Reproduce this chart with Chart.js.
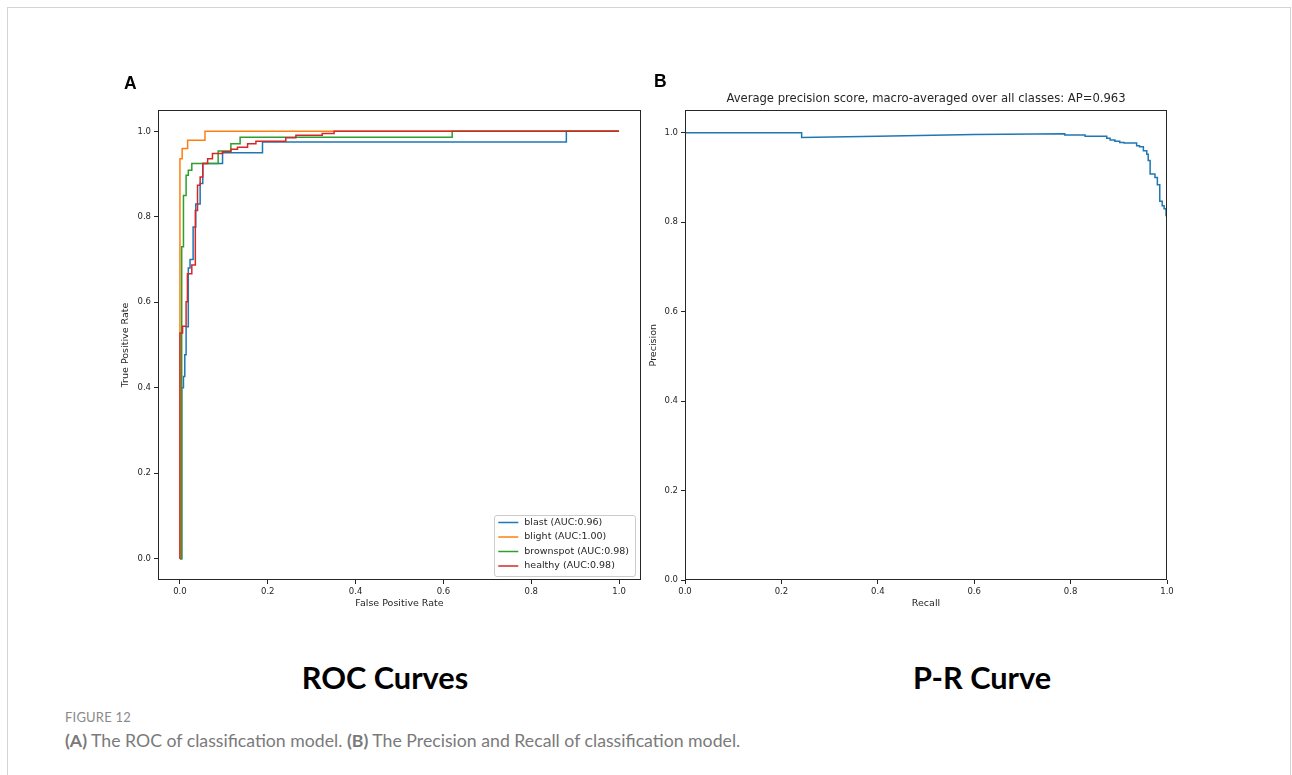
<!DOCTYPE html>
<html><head><meta charset="utf-8">
<script src="https://cdn.jsdelivr.net/npm/chart.js@4.4.0/dist/chart.umd.min.js"></script>
<style>
html,body{margin:0;padding:0;background:#fff;}
body{width:1292px;height:775px;overflow:hidden;position:relative;}
.card{position:absolute;left:7px;top:7px;width:1284px;height:820px;border:1px solid #d4d4d4;box-sizing:border-box;}
.cv{position:absolute;}
.panel{position:absolute;font-family:"Liberation Sans",Arial,sans-serif;font-weight:bold;font-size:17.5px;line-height:1;color:#000;}
.big{position:absolute;font-family:Lato,"Open Sans",sans-serif;font-weight:bold;font-size:30.7px;line-height:1;color:#000;transform:translateX(-50%);white-space:nowrap;}
.fig{position:absolute;left:65px;top:711px;font-family:Lato,"Open Sans",sans-serif;font-size:13px;line-height:1;color:#8a8a8a;letter-spacing:0.2px;}
.cap{position:absolute;left:65px;top:732px;font-family:Lato,"Open Sans",sans-serif;font-size:17.7px;line-height:1;color:#7a7a7a;white-space:nowrap;}
.cap b{font-weight:bold;}
</style></head>
<body>
<div class="card"></div>
<canvas id="roc" class="cv" width="600" height="570" style="left:60px;top:60px;width:600px;height:570px"></canvas>
<canvas id="pr" class="cv" width="600" height="570" style="left:640px;top:60px;width:600px;height:570px"></canvas>
<div class="panel" style="left:124px;top:74.5px">A</div>
<div class="panel" style="left:654px;top:73px">B</div>
<div class="big" style="left:385px;top:663px">ROC Curves</div>
<div class="big" style="left:982px;top:663px">P-R Curve</div>
<div class="fig">FIGURE 12</div>
<div class="cap"><b>(A)</b> The ROC of classification model. <b>(B)</b> The Precision and Recall of classification model.</div>
<script>
// ---------- data ----------
const classNames = ["blast", "blight", "brownspot", "healthy"];
const aucValues = ["0.96", "1.00", "0.98", "0.98"];
const classColors = ["#1f77b4", "#ff7f0e", "#2ca02c", "#d62728"];

const blastFpr = [0, 0.004, 0.004, 0.008, 0.008, 0.011, 0.011, 0.014, 0.014, 0.019, 0.019, 0.023, 0.023, 0.030, 0.030, 0.036, 0.036, 0.046, 0.046, 0.052, 0.052, 0.097, 0.097, 0.188, 0.188, 0.88, 0.88, 1.0];
const blastTpr = [0, 0, 0.40, 0.40, 0.426, 0.426, 0.477, 0.477, 0.543, 0.543, 0.68, 0.68, 0.70, 0.70, 0.776, 0.776, 0.83, 0.83, 0.878, 0.878, 0.925, 0.925, 0.95, 0.95, 0.975, 0.975, 1.0, 1.0];

const blightFpr = [0, 0, 0.005, 0.005, 0.0175, 0.0175, 0.057, 0.057, 1.0];
const blightTpr = [0, 0.936, 0.936, 0.960, 0.960, 0.979, 0.979, 1.0, 1.0];

const brownspotFpr = [0, 0.004, 0.004, 0.008, 0.008, 0.014, 0.014, 0.019, 0.019, 0.027, 0.027, 0.087, 0.087, 0.116, 0.116, 0.137, 0.137, 0.62, 0.62, 1.0];
const brownspotTpr = [0, 0, 0.73, 0.73, 0.85, 0.85, 0.897, 0.897, 0.909, 0.909, 0.925, 0.925, 0.954, 0.954, 0.971, 0.971, 0.986, 0.986, 1.0, 1.0];

const healthyFpr = [0, 0, 0.006, 0.006, 0.014, 0.014, 0.017, 0.017, 0.027, 0.027, 0.035, 0.035, 0.040, 0.040, 0.046, 0.046, 0.052, 0.052, 0.063, 0.063, 0.074, 0.074, 0.097, 0.097, 0.116, 0.116, 0.131, 0.131, 0.154, 0.154, 0.173, 0.173, 0.241, 0.241, 0.264, 0.264, 0.324, 0.324, 0.351, 0.351, 1.0];
const healthyTpr = [0, 0.528, 0.528, 0.544, 0.544, 0.601, 0.601, 0.667, 0.667, 0.687, 0.687, 0.815, 0.815, 0.874, 0.874, 0.893, 0.893, 0.925, 0.925, 0.936, 0.936, 0.948, 0.948, 0.952, 0.952, 0.958, 0.958, 0.963, 0.963, 0.971, 0.971, 0.977, 0.977, 0.985, 0.985, 0.991, 0.991, 0.995, 0.995, 1.0, 1.0];

const prRecall = [0, 0.242, 0.242, 0.40, 0.60, 0.788, 0.788, 0.83, 0.83, 0.875, 0.875, 0.882, 0.882, 0.892, 0.892, 0.902, 0.902, 0.911, 0.911, 0.937, 0.937, 0.943, 0.943, 0.951, 0.951, 0.958, 0.958, 0.961, 0.961, 0.965, 0.965, 0.975, 0.975, 0.980, 0.980, 0.985, 0.985, 0.990, 0.990, 0.994, 0.994, 0.998, 0.998, 1.0, 1.0];
const prPrecision = [1.0, 1.0, 0.9895, 0.992, 0.996, 0.998, 0.995, 0.995, 0.992, 0.992, 0.988, 0.988, 0.984, 0.984, 0.981, 0.981, 0.978, 0.978, 0.977, 0.977, 0.971, 0.971, 0.969, 0.969, 0.960, 0.960, 0.952, 0.952, 0.938, 0.938, 0.908, 0.908, 0.900, 0.900, 0.884, 0.884, 0.847, 0.847, 0.837, 0.837, 0.830, 0.830, 0.815, 0.815, 0.505];

const unitTicks = [0, 0.2, 0.4, 0.6, 0.8, 1.0];
const rocTitleX = "False Positive Rate", rocTitleY = "True Positive Rate";
const prTitleX = "Recall", prTitleY = "Precision";
const prTitle = "Average precision score, macro-averaged over all classes: AP=0.963";

// ---------- helpers ----------
const FONT = "'DejaVu Sans', sans-serif";
const INK = "#262626";
const toPts = (xs, ys) => xs.map((x, j) => ({x: x, y: ys[j]}));

const framePlugin = {
  id: 'frame',
  afterDatasetsDraw(chart) {
    const {ctx, chartArea: a} = chart;
    ctx.save();
    ctx.strokeStyle = INK; ctx.lineWidth = 1;
    const l = Math.round(a.left) + 0.5, t = Math.round(a.top) + 0.5;
    const r = Math.round(a.right) - 0.5, b = Math.round(a.bottom) - 0.5;
    ctx.strokeRect(l, t, r - l, b - t);
    ctx.restore();
  }
};

const insideLegend = {
  id: 'insideLegend',
  afterDraw(chart, args, opts) {
    if (!opts || !opts.show) return;
    const {ctx, chartArea: a} = chart;
    const ds = chart.data.datasets;
    ctx.save();
    ctx.font = "9.5px " + FONT;
    let maxW = 0;
    ds.forEach(d => { maxW = Math.max(maxW, ctx.measureText(d.label).width); });
    const rowH = 14.5, w = 30 + maxW + 6, h = rowH * ds.length + 3;
    const x0 = a.right - 6 - w, y0 = a.bottom - 4 - h;
    ctx.fillStyle = "rgba(255,255,255,0.8)";
    ctx.strokeStyle = "#cccccc"; ctx.lineWidth = 1;
    ctx.beginPath();
    if (ctx.roundRect) ctx.roundRect(Math.round(x0) + 0.5, Math.round(y0) + 0.5, Math.round(w), Math.round(h), 2.5);
    else ctx.rect(Math.round(x0) + 0.5, Math.round(y0) + 0.5, Math.round(w), Math.round(h));
    ctx.fill(); ctx.stroke();
    ds.forEach((d, i) => {
      const cy = y0 + 7.5 + i * rowH;
      ctx.strokeStyle = d.borderColor; ctx.lineWidth = 1.5;
      ctx.beginPath(); ctx.moveTo(x0 + 4, cy); ctx.lineTo(x0 + 24, cy); ctx.stroke();
      ctx.fillStyle = INK; ctx.textBaseline = "middle"; ctx.textAlign = "left";
      ctx.fillText(d.label, x0 + 30, cy);
    });
    ctx.restore();
  }
};

function axis(min, max, titleText, fit, titlePad, isX) {
  return {
    type: 'linear', min: min, max: max,
    afterBuildTicks: s => { s.ticks = unitTicks.map(v => ({value: v})); },
    afterFit: s => { if (isX) s.height = fit; else s.width = fit; },
    border: {display: false},
    grid: {display: true, drawOnChartArea: false, drawTicks: true, tickLength: 4, color: INK, lineWidth: 1},
    ticks: {color: INK, font: {family: FONT, size: 8.5}, padding: 3, callback: v => Number(v).toFixed(1), maxRotation: 0, autoSkip: false},
    title: {display: true, text: titleText, color: INK, font: {family: FONT, size: 9.5}, padding: titlePad}
  };
}

Chart.defaults.animation = false;
Chart.defaults.font.family = FONT;

// ---------- ROC ----------
const rocSeries = [[blastFpr, blastTpr], [blightFpr, blightTpr], [brownspotFpr, brownspotTpr], [healthyFpr, healthyTpr]];
new Chart(document.getElementById('roc'), {
  type: 'line',
  data: {
    datasets: classNames.map((c, i) => ({
      label: c + " (AUC:" + aucValues[i] + ")",
      data: toPts(rocSeries[i][0], rocSeries[i][1]),
      borderColor: classColors[i], backgroundColor: classColors[i],
      borderWidth: 1.5, pointRadius: 0, tension: 0, fill: false,
      order: classNames.length - i
    }))
  },
  options: {
    responsive: false, animation: false,
    layout: {padding: {top: 50, right: 19, left: 0, bottom: 0}},
    scales: {
      x: axis(-0.05, 1.05, rocTitleX, 50, {top: 0, bottom: 20.3}, true),
      y: axis(-0.05, 1.05, rocTitleY, 98, {top: 60.3, bottom: 0}, false)
    },
    plugins: {legend: {display: false}, tooltip: {enabled: false}, insideLegend: {show: true}}
  },
  plugins: [framePlugin, insideLegend]
});

// ---------- P-R ----------
new Chart(document.getElementById('pr'), {
  type: 'line',
  data: {
    datasets: [{
      label: "P-R",
      data: toPts(prRecall, prPrecision),
      borderColor: classColors[0], backgroundColor: classColors[0],
      borderWidth: 1.5, pointRadius: 0, tension: 0, fill: false
    }]
  },
  options: {
    responsive: false, animation: false,
    layout: {padding: {top: 0, right: 73, left: 0, bottom: 0}},
    scales: {
      x: axis(0, 1, prTitleX, 50, {top: 0, bottom: 20.3}, true),
      y: axis(0, 1.05, prTitleY, 45, {top: 8.3, bottom: 0}, false)
    },
    plugins: {
      legend: {display: false}, tooltip: {enabled: false}, insideLegend: {show: false},
      title: {display: true, text: prTitle, fullSize: false, color: INK, font: {family: FONT, size: 11.6, weight: 'normal'}, padding: {top: 32, bottom: 4.5}}
    }
  },
  plugins: [framePlugin, insideLegend]
});
</script>
</body></html>
